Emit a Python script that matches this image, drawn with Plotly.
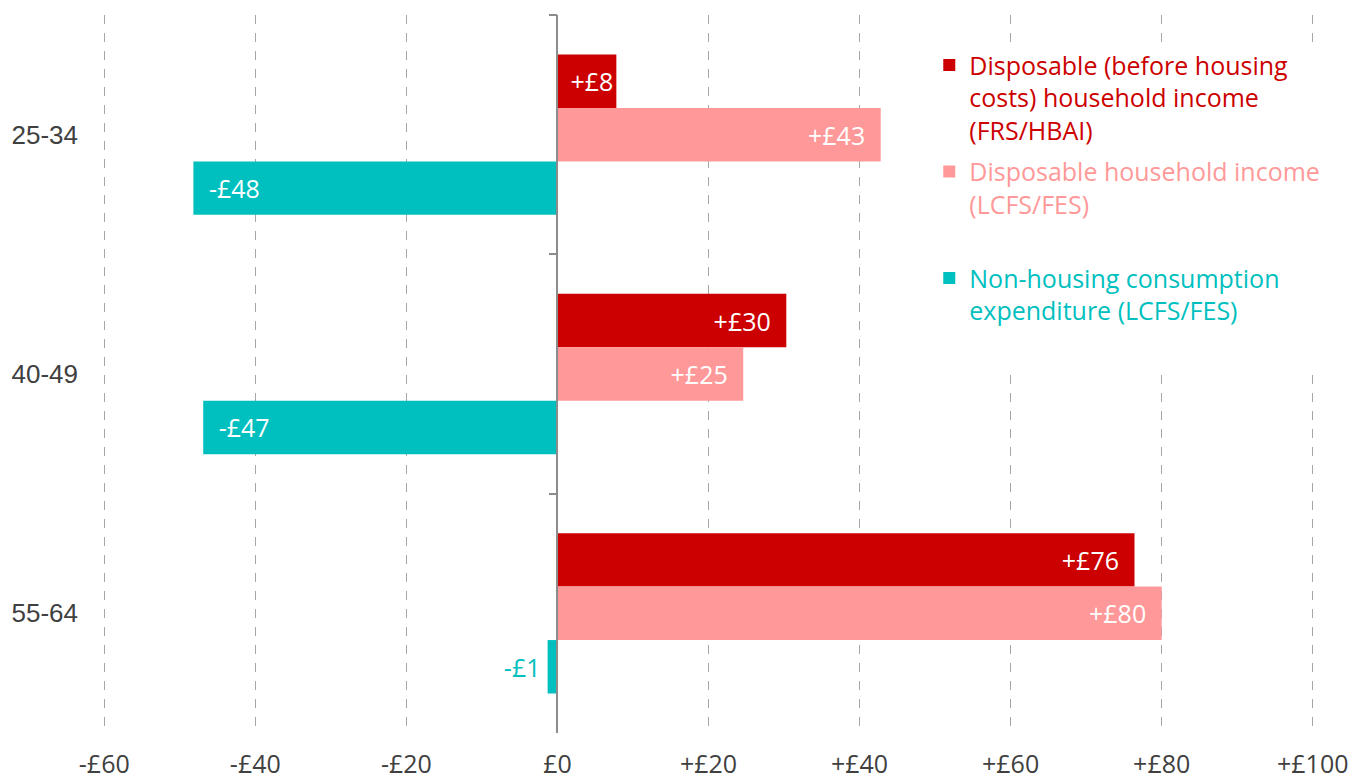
import plotly.graph_objects as go

# Change in weekly amounts by age group (£)
age_groups = ["25-34", "40-49", "55-64"]
disposable_hbai = [7.8, 30.3, 76.4]
disposable_lcfs = [42.8, 24.6, 80.0]
non_housing_exp = [-48.2, -46.9, -1.3]

x_ticks = [-60, -40, -20, 0, 20, 40, 60, 80, 100]
x_tick_labels = ["-£60", "-£40", "-£20", "£0", "+£20", "+£40", "+£60", "+£80", "+£100"]

RED = "#CC0000"
PINK = "#FF9999"
TEAL = "#00BFBF"
AXIS_GREY = "#8C8C8C"
TEXT_GREY = "#404040"
FONT = "'Open Sans', sans-serif"
CAT_FONT = "'Liberation Sans', Arial, sans-serif"

EN_SPACE = "\u2002"
THIN_SPACE = "\u2009"


def money_label(v):
    r = round(v)
    if r > 0:
        return f"+£{r}"
    if r < 0:
        return f"-£{abs(r)}"
    return "£0"


def bar_text(v):
    # pad the label away from the bar end, like the original's inside-end labels
    label = money_label(v)
    if abs(v) < 10:
        return label + THIN_SPACE if v < 0 else label
    return label + EN_SPACE if v > 0 else EN_SPACE + label


def legend_name(text, color):
    return f"<span style='color:{color}'>{text}</span>"


series = [
    ("Disposable (before housing<br>costs) household income<br>(FRS/HBAI)", disposable_hbai, RED),
    ("Disposable household income<br>(LCFS/FES)<br> ", disposable_lcfs, PINK),
    ("Non-housing consumption<br>expenditure (LCFS/FES)<br> ", non_housing_exp, TEAL),
]

fig = go.Figure()

for i, (name, values, color) in enumerate(series):
    fig.add_trace(go.Bar(
        name=legend_name(name, color),
        legendgroup=f"g{i}",
        x=values,
        y=age_groups,
        orientation="h",
        marker=dict(color=color, line=dict(width=0)),
        text=[bar_text(v) for v in values],
        textposition="auto",
        insidetextanchor="end",
        insidetextfont=dict(color="white", size=25, family=FONT),
        outsidetextfont=dict(color=color, size=25, family=FONT),
        cliponaxis=False,
    ))

# invisible trace so the secondary category axis (line at £0) gets its categories
fig.add_trace(go.Scatter(
    x=[0, 0, 0],
    y=age_groups,
    yaxis="y2",
    mode="markers",
    marker=dict(opacity=0),
    showlegend=False,
    hoverinfo="skip",
))

x_range = [-60.3, 100.3]
zero_pos = (0 - x_range[0]) / (x_range[1] - x_range[0])

fig.update_layout(
    width=1367,
    height=779,
    barmode="group",
    bargap=0.33,
    bargroupgap=0,
    plot_bgcolor="white",
    paper_bgcolor="white",
    margin=dict(l=94, r=60, t=7, b=54),
    font=dict(family=FONT, size=25, color=TEXT_GREY),
    xaxis=dict(
        range=x_range,
        tickvals=x_ticks,
        ticktext=x_tick_labels,
        showgrid=True,
        gridcolor="#A6A6A6",
        griddash="dash",
        gridwidth=1.2,
        zeroline=False,
        showline=False,
        ticks="",
        automargin=False,
        ticklabelstandoff=14,
        tickfont=dict(size=25, color=TEXT_GREY, family=FONT),
    ),
    yaxis=dict(
        categoryorder="array",
        categoryarray=age_groups,
        range=[2.5, -0.5],
        showgrid=False,
        zeroline=False,
        showline=False,
        ticks="",
        automargin=False,
        ticklabelstandoff=23,
        tickfont=dict(size=26, color=TEXT_GREY, family=CAT_FONT),
    ),
    yaxis2=dict(
        overlaying="y",
        anchor="free",
        position=zero_pos,
        side="left",
        categoryorder="array",
        categoryarray=age_groups,
        range=[2.5, -0.5],
        showgrid=False,
        zeroline=False,
        showline=True,
        linecolor=AXIS_GREY,
        linewidth=1.5,
        ticks="outside",
        tickson="boundaries",
        ticklen=8,
        tickwidth=1.5,
        tickcolor=AXIS_GREY,
        showticklabels=False,
        automargin=False,
    ),
    legend=dict(
        x=0.682,
        y=0.962,
        xanchor="left",
        yanchor="top",
        bgcolor="white",
        valign="top",
        traceorder="grouped",
        tracegroupgap=6,
        itemclick=False,
        font=dict(size=25, family=FONT),
        itemwidth=30,
    ),
    showlegend=True,
)

fig.write_html("out.html")
